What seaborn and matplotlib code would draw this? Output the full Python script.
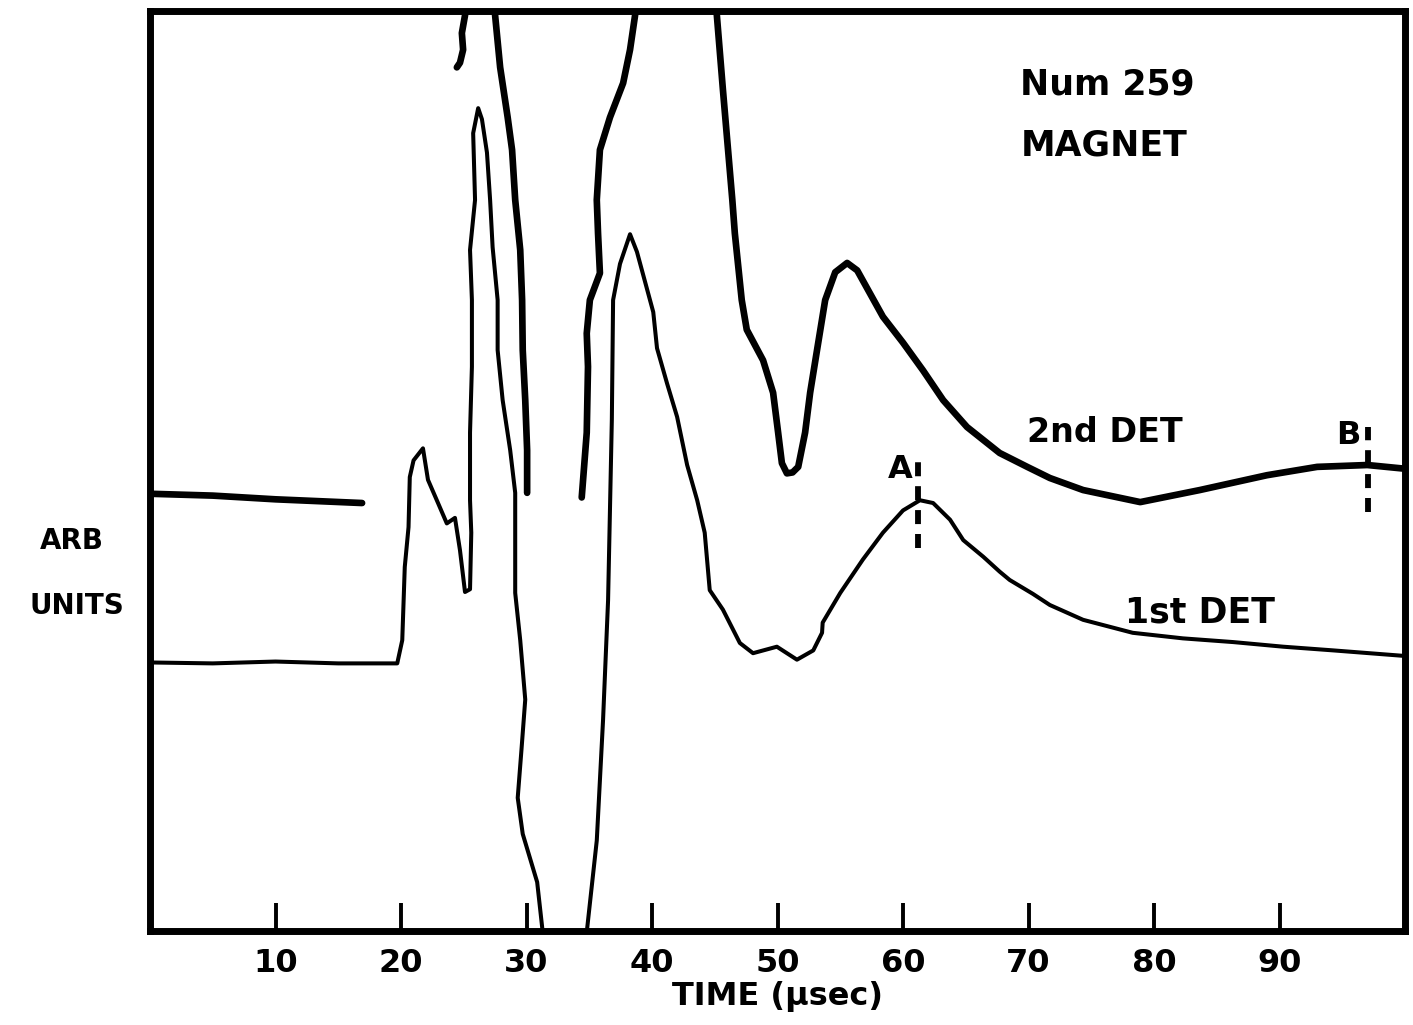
import matplotlib
matplotlib.use("Agg")
import matplotlib.pyplot as plt
import pandas as pd
import seaborn as sns

# ---- 1st detector trace (thin line) ----
det1_time = [0, 5, 10, 15, 19.7, 20.1, 20.3, 20.6, 20.7, 21.0, 21.75, 22.15, 22.95,
             23.65, 24.3, 24.7, 25.1, 25.5, 25.6, 25.5, 25.5, 25.65, 25.65, 25.5,
             25.9, 25.75, 26.15, 26.45, 26.85, 27.1, 27.3, 27.7, 27.7, 28.1, 28.7,
             29.1, 29.1, 29.5, 29.9, 29.6, 29.3, 29.7, 30.85, 31.3, 33.0, 34.8,
             35.6, 36.1, 36.5, 36.8, 36.9, 37.45, 38.25, 38.8, 40.1, 40.4, 41.2,
             42.0, 42.8, 43.6, 44.2, 44.6, 45.65, 47.0, 48.05, 49.95, 51.55, 52.85,
             53.55, 53.6, 55.0, 56.8, 58.4, 60.0, 61.35, 62.4, 63.75, 64.8, 66.4,
             67.7, 68.5, 70.35, 71.7, 74.35, 78.3, 82.3, 86.3, 90.3, 94.3, 100]
det1_amp = [29.4, 29.3, 29.5, 29.3, 29.3, 31.8, 39.7, 44.0, 49.4, 51.2, 52.5, 49.1, 46.6,
            44.4, 45.0, 41.5, 37.0, 37.3, 43.4, 46.9, 54.2, 61.3, 68.5, 73.9,
            79.3, 86.5, 89.2, 88.0, 84.4, 79.3, 74.2, 68.5, 63.1, 57.7, 52.3,
            47.7, 36.9, 31.8, 25.4, 20.0, 14.8, 10.9, 5.7, 0.2, -6.0, 0.3,
            10.2, 23.2, 36.1, 55.6, 68.5, 72.4, 75.6, 73.7, 67.2, 63.3, 59.5,
            55.9, 50.7, 46.9, 43.4, 37.2, 35.1, 31.5, 30.4, 31.1, 29.7, 30.7,
            32.6, 33.7, 36.9, 40.5, 43.4, 45.8, 46.9, 46.6, 44.8, 42.6, 40.8,
            39.2, 38.3, 36.8, 35.6, 34.0, 32.6, 32.0, 31.6, 31.1, 30.7, 30.1]

# ---- 2nd detector trace (thick line), recorded in separate pieces ----
det2_piece1_time = [0, 5, 10, 16.9]
det2_piece1_amp = [47.6, 47.4, 47.0, 46.6]

det2_piece2_time = [25.2, 25.1, 24.85, 24.95, 24.7, 24.45]
det2_piece2_amp = [101.0, 99.2, 97.3, 95.5, 94.1, 93.6]

det2_piece3_time = [27.45, 27.5, 27.9, 28.5, 28.85, 29.1, 29.5, 29.65, 29.7, 29.9, 30.05, 30.05]
det2_piece3_amp = [101.0, 99.2, 93.6, 88.2, 84.7, 79.3, 73.9, 68.5, 63.1, 57.7, 52.3, 47.7]

det2_piece4_time = [34.4, 34.8, 34.9, 34.8, 35.05, 35.85, 35.7, 35.6, 35.85, 36.65,
                    37.7, 38.25, 38.65, 38.75]
det2_piece4_amp = [47.2, 54.2, 61.3, 64.9, 68.5, 71.4, 75.7, 79.3, 84.7, 88.2,
                   91.9, 95.5, 99.2, 101.0]

det2_piece5_time = [45.0, 45.15, 45.65, 46.4, 46.6, 47.15, 47.55, 48.85, 49.65, 50.05,
                    50.35, 50.75, 51.2, 51.65, 52.2, 52.6, 53.15, 53.8, 54.6, 55.55,
                    56.35, 58.4, 60.0, 61.6, 63.2, 65.1, 67.7, 69.9, 71.7, 74.35,
                    78.9, 83.65, 89.0, 93.0, 97.0, 100]
det2_piece5_amp = [101.0, 99.5, 91.2, 79.3, 75.7, 68.5, 65.3, 62.0, 58.5, 54.2,
                   50.9, 49.8, 49.9, 50.5, 54.2, 58.5, 63.1, 68.5, 71.5, 72.5,
                   71.7, 66.7, 63.9, 60.9, 57.7, 54.8, 52.0, 50.5, 49.3, 48.0,
                   46.7, 48.0, 49.6, 50.5, 50.7, 50.3]

# ---- timing markers ----
marker_names = ["A", "B"]
marker_time = [61.2, 97.05]
marker_low = [41.7, 45.6]
marker_high = [51.0, 54.8]
marker_label_pos = [(59.8, 50.2), (95.45, 53.9)]

xtick_values = [10, 20, 30, 40, 50, 60, 70, 80, 90]

# ---- assemble tables ----
det1 = pd.DataFrame({"time": det1_time, "amp": det1_amp})
pieces = [
    (det2_piece1_time, det2_piece1_amp),
    (det2_piece2_time, det2_piece2_amp),
    (det2_piece3_time, det2_piece3_amp),
    (det2_piece4_time, det2_piece4_amp),
    (det2_piece5_time, det2_piece5_amp),
]
det2 = pd.concat(
    [pd.DataFrame({"time": t, "amp": a, "piece": i}) for i, (t, a) in enumerate(pieces)],
    ignore_index=True,
)

sns.set_theme(style="white")
plt.rcParams["font.family"] = ["DejaVu Sans"]
plt.rcParams["font.weight"] = "bold"
plt.rcParams["text.color"] = "black"
plt.rcParams["axes.labelcolor"] = "black"
plt.rcParams["xtick.color"] = "black"

W, H = 1413, 1025
fig = plt.figure(figsize=(W / 100, H / 100), dpi=100)
fig.patch.set_facecolor("white")
left_px, right_px, top_px, bottom_px = 150, 1405, 11, 931
ax = fig.add_axes([left_px / W, 1 - bottom_px / H,
                   (right_px - left_px) / W, (bottom_px - top_px) / H])
ax.set_facecolor("white")

line_kw = dict(solid_joinstyle="round", solid_capstyle="round")
sns.lineplot(data=det1, x="time", y="amp", sort=False, estimator=None,
             color="black", linewidth=2.9, ax=ax, **line_kw)
sns.lineplot(data=det2, x="time", y="amp", units="piece", sort=False, estimator=None,
             color="black", linewidth=4.8, ax=ax, **line_kw)

for name, t, lo, hi, (lx, ly) in zip(marker_names, marker_time, marker_low,
                                     marker_high, marker_label_pos):
    ax.plot([t, t], [lo, hi], color="black", linewidth=4.2,
            linestyle=(0, (2.4, 1.7)), dash_capstyle="butt")
    ax.text(lx, ly, name, ha="center", va="center", fontsize=23,
            fontweight="bold", color="black")

ax.text(69.3, 91.7, "Num 259", ha="left", va="center", fontsize=25,
        fontweight="bold", color="black")
ax.text(69.4, 85.2, "MAGNET", ha="left", va="center", fontsize=25,
        fontweight="bold", color="black")
ax.text(69.9, 54.2, "2nd DET", ha="left", va="center", fontsize=24,
        fontweight="bold", color="black")
ax.text(77.7, 34.8, "1st DET", ha="left", va="center", fontsize=25,
        fontweight="bold", color="black")

fig.text(72 / W, 1 - 541 / H, "ARB", ha="center", va="center", fontsize=20,
         fontweight="bold", color="black")
fig.text(77 / W, 1 - 606 / H, "UNITS", ha="center", va="center", fontsize=20,
         fontweight="bold", color="black")

ax.set_xlim(0, 100)
ax.set_ylim(0.43, 99.68)
ax.set_xticks(xtick_values)
ax.set_xticklabels([str(v) for v in xtick_values])
ax.set_yticks([])
ax.tick_params(axis="x", direction="in", length=20, width=2.8, pad=12,
               labelsize=23, bottom=True, colors="black")
for lbl in ax.get_xticklabels():
    lbl.set_fontweight("bold")
ax.set_xlabel("TIME (µsec)", fontsize=23, fontweight="bold", labelpad=2,
              color="black")
ax.set_ylabel("")

for side in ["left", "right", "top", "bottom"]:
    ax.spines[side].set_visible(True)
    ax.spines[side].set_color("black")
    ax.spines[side].set_linewidth(5)

fig.savefig("out.png", dpi=100, facecolor="white")
